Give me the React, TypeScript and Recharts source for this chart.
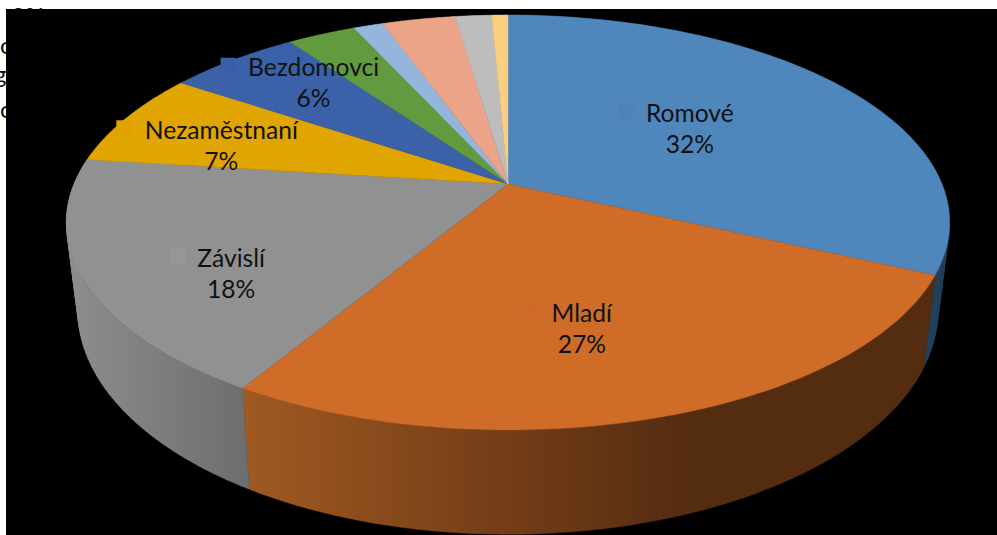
import { PieChart, Pie, Cell } from "recharts";

const CATEGORIES = ["Romové", "Mladí", "Závislí", "Nezaměstnaní", "Bezdomovci", "Skupina 6", "Skupina 7", "Skupina 8", "Skupina 9", "Skupina 10"];
const VALUES = [31.9, 26.7, 18.4, 7.4, 5.8, 3.0, 1.3, 3.2, 1.6, 0.7];
const COLORS = ["#4f86bb", "#cf6c28", "#919191", "#e0a500", "#3b62a9", "#629a3f", "#94b6dd", "#eca488", "#bdbdbd", "#fbcf82"];
const WALLS = ["#23405b", "url(#wallOrange)", "url(#wallGray)", "#6b5000", "#1d3155", "#31501f", "#4a5b6e", "#765244", "#5e5e5e", "#7d6741"];
const KEYS = ["#4d83b8", "#cd6b28", "#969696", "#dfa300", "#3a5fa6"];

const NAME_WIDTHS = [87, 60, 65, 154, 130];
const LABEL_R = [0.52, 0.65, 0.65, 0.75, 0.7];
const LABEL_NUDGE = [[1, -3], [-20, 3.5], [-9, 29], [4, 11], [5, -12]];

const data = CATEGORIES.map((name, i) => ({ name, value: VALUES[i] }));

type Pt = { x: number; y: number };

// the slices are flat circles, tilted onto the screen with a perspective map
const project = (u: number, v: number): Pt => {
  const w = 1 - 0.1855 * v;
  return { x: 508 + (434 * u) / w, y: (166.2 * v + 184) / w };
};
const lower = (p: Pt): Pt => ({
  x: 508 + 0.974 * (p.x - 508),
  y: 1.08 * p.y + 70,
});
const onRim = (deg: number, r = 1) => {
  const a = (deg * Math.PI) / 180;
  return project(r * Math.cos(a), -r * Math.sin(a));
};
const rim = (start: number, end: number) => {
  const pts: Pt[] = [];
  for (let i = 0; i <= 60; i++) pts.push(onRim(start + ((end - start) * i) / 60));
  return pts;
};
const toPath = (pts: Pt[]) =>
  "M" + pts.map((p) => `${p.x.toFixed(1)},${p.y.toFixed(1)}`).join("L") + "Z";

// same winding on every quad, or the fold at the pie's left edge cancels out
const quad = (a: Pt, b: Pt) => {
  const c = lower(b);
  const d = lower(a);
  const pts = [a, b, c, d];
  const area = pts.reduce((s, p, i) => {
    const q = pts[(i + 1) % 4];
    return s + p.x * q.y - q.x * p.y;
  }, 0);
  return toPath(area < 0 ? pts.reverse() : pts);
};

const TopFace = (props: any) => {
  const d = toPath([project(0, 0), ...rim(props.startAngle, props.endAngle)]);
  return <path d={d} fill={props.fill} stroke={props.fill} strokeWidth={0.4} />;
};

const SideWall = (props: any) => {
  const top = rim(props.startAngle, props.endAngle);
  const d = top.slice(1).map((p, i) => quad(top[i], p)).join("");
  return <path d={d} fill={props.fill} stroke={props.fill} strokeWidth={0.4} />;
};

const SliceLabel = (props: any) => {
  const i = props.index;
  if (i >= LABEL_R.length) return null;
  const p = onRim(props.midAngle, LABEL_R[i]);
  const x = p.x + LABEL_NUDGE[i][0];
  const y = p.y + LABEL_NUDGE[i][1];
  const textStyle = { fontFamily: "Lato, sans-serif", fontSize: 24.6, fill: "#111111" };
  return (
    <g>
      <rect x={x - NAME_WIDTHS[i] / 2 - 28} y={y - 24.5} width={15} height={15} fill={KEYS[i]} />
      <text x={x} y={y - 6} textAnchor="middle" style={textStyle}>
        {CATEGORIES[i]}
      </text>
      <text x={x} y={y + 25} textAnchor="middle" style={textStyle}>
        {`${Math.round(props.percent * 100)}%`}
      </text>
    </g>
  );
};

const clipped = (left: number, top: number, text: string) => (
  <span
    style={{
      position: "absolute",
      left,
      top,
      fontFamily: "Lato, sans-serif",
      fontSize: 24,
      lineHeight: "30px",
      color: "#111111",
    }}
  >
    {text}
  </span>
);

export default function App() {
  return (
    <div style={{ position: "absolute", left: 0, top: 0, width: 997, height: 535, overflow: "hidden", background: "#fff" }}>
      {clipped(11, 1, "3%")}
      {clipped(0, 30, "o")}
      {clipped(-6, 59, "g")}
      {clipped(0, 94, "c")}
      <div style={{ position: "absolute", left: 6, top: 9, width: 991, height: 526, background: "#000" }} />
      <div style={{ position: "absolute", left: 0, top: 0 }}>
        <PieChart width={997} height={535} margin={{ top: 0, right: 0, bottom: 0, left: 0 }}>
          <defs>
            <linearGradient id="wallOrange" gradientUnits="userSpaceOnUse" x1={243} y1={0} x2={690} y2={0}>
              <stop offset="0%" stopColor="#a05a22" />
              <stop offset="50%" stopColor="#7a4119" />
              <stop offset="100%" stopColor="#542c10" />
            </linearGradient>
            <linearGradient id="wallGray" gradientUnits="userSpaceOnUse" x1={65} y1={0} x2={250} y2={0}>
              <stop offset="0%" stopColor="#8e8e8e" />
              <stop offset="100%" stopColor="#6d6d6d" />
            </linearGradient>
          </defs>
          <Pie
            data={data}
            dataKey="value"
            nameKey="name"
            cx={508}
            cy={222}
            outerRadius={200}
            startAngle={90}
            endAngle={-270}
            stroke="none"
            shape={SideWall}
            isAnimationActive={false}
          >
            {WALLS.map((c, i) => (
              <Cell key={i} fill={c} />
            ))}
          </Pie>
          <Pie
            data={data}
            dataKey="value"
            nameKey="name"
            cx={508}
            cy={222}
            outerRadius={200}
            startAngle={90}
            endAngle={-270}
            stroke="none"
            shape={TopFace}
            label={SliceLabel}
            labelLine={false}
            isAnimationActive={false}
          >
            {COLORS.map((c, i) => (
              <Cell key={i} fill={c} />
            ))}
          </Pie>
        </PieChart>
      </div>
    </div>
  );
}
